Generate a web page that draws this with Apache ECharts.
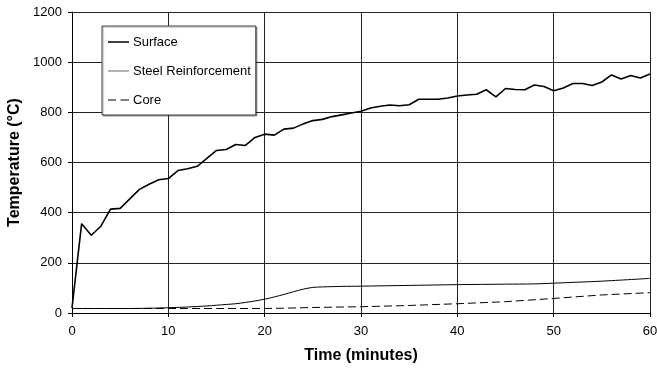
<!DOCTYPE html>
<html><head><meta charset="utf-8">
<script src="https://cdn.jsdelivr.net/npm/echarts@6/dist/echarts.min.js"></script>
<style>html,body{margin:0;padding:0;background:#fff}#c{width:657px;height:372px}</style>
</head><body><div id="c"></div>
<script>
const times = [0,1,2,3,4,5,6,7,8,9,10,11,12,13,14,15,16,17,18,19,20,21,22,23,24,25,26,27,28,29,30,31,32,33,34,35,36,37,38,39,40,41,42,43,44,45,46,47,48,49,50,51,52,53,54,55,56,57,58,59,60];
const surface = [20,356,310,346,414,417,455,493,513,531,536,568,575,585,616,648,652,672,668,700,713,709,733,737,754,767,772,783,790,797,804,817,824,829,826,830,852,852,852,857,865,869,872,890,862,895,891,890,909,903,886,897,915,915,907,921,949,933,947,937,953];
const steelT = [0,2,4,6,8,10,12,14,15,16,17,18,19,20,21,22,23,24,25,26,28,30,35,40,45,48,50,55,60];
const steel = [18,18,18,18,19,21,24,28,31,34,37,42,48,55,64,74,85,95,102,104,106,107,110,113,115,116,119,127,138];
const coreT = [0,5,10,15,20,22,25,30,35,40,45,50,55,60];
const core = [18,18,18,18,18,19,22,25,30,37,45,58,72,81];
const seriesNames = ['Surface', 'Steel Reinforcement', 'Core'];

// legend glyphs: tiny invisible corner marks keep the 21x14 box so the stroke is not stretched
const box = 'M0,0L0.01,0L0,0.01Z M21,14L20.99,14L21,13.99Z ';
const iconSolid = 'path://' + box + 'M0,6.3h21v1.5h-21z';
const iconThin = 'path://' + box + 'M0,6.5h21v1.1h-21z';
const iconDash = 'path://' + box + 'M0,6.5h8v1h-8z M12.5,6.5h8.5v1h-8.5z';
const icons = [iconSolid, iconThin, iconDash];

const chart = echarts.init(document.getElementById('c'));
const F = 'Liberation Sans, Arial, sans-serif';
chart.setOption({
  animation: false,
  backgroundColor: '#fff',
  textStyle: {fontFamily: F},
  grid: {left: 72, right: 7, top: 12, bottom: 59, containLabel: false, outerBoundsMode: 'none'},
  legend: {
    orient: 'vertical', left: 102, top: 26,
    padding: [9, 5, 8, 6], itemGap: 15, itemWidth: 21, itemHeight: 14,
    borderColor: '#444', borderWidth: 1, backgroundColor: '#fff',
    shadowColor: 'rgba(0,0,0,0.35)', shadowOffsetX: 1, shadowOffsetY: 1, shadowBlur: 1,
    textStyle: {fontFamily: F, fontSize: 13, color: '#000', padding: [0,0,0,-1]},
    data: seriesNames.map((n, i) => ({name: n, icon: icons[i]}))
  },
  xAxis: {
    type: 'value', min: 0, max: 60, interval: 10,
    name: 'Time (minutes)', nameLocation: 'middle', nameGap: 35,
    nameTextStyle: {fontFamily: F, fontSize: 16, fontWeight: 'bold', color: '#000'},
    axisLine: {show: true, lineStyle: {color: '#000', width: 1}},
    axisTick: {show: true, length: 4, inside: false, lineStyle: {color: '#000'}},
    axisLabel: {fontFamily: F, fontSize: 13, color: '#000', margin: 12},
    splitLine: {show: true, lineStyle: {color: '#222', width: 1}}
  },
  yAxis: {
    type: 'value', min: 0, max: 1200, interval: 200,
    name: 'Temperature (°C)', nameLocation: 'middle', nameGap: 42, nameRotate: 90,
    nameTextStyle: {fontFamily: F, fontSize: 16, fontWeight: 'bold', color: '#000'},
    axisLine: {show: true, lineStyle: {color: '#000', width: 1}},
    axisTick: {show: true, length: 4, inside: false, lineStyle: {color: '#000'}},
    axisLabel: {fontFamily: F, fontSize: 13, color: '#000', margin: 10, formatter: v => String(v)},
    splitLine: {show: true, lineStyle: {color: '#222', width: 1}}
  },
  series: [
    {name: seriesNames[0], type: 'line', symbol: 'none', data: times.map((t,i)=>[t, surface[i]]),
     lineStyle: {color: '#000', width: 1.6}, itemStyle: {color: '#000'}},
    {name: seriesNames[1], type: 'line', symbol: 'none', smooth: 0.3, data: steelT.map((t,i)=>[t, steel[i]]),
     lineStyle: {color: '#000', width: 1}, itemStyle: {color: '#666'}},
    {name: seriesNames[2], type: 'line', symbol: 'none', data: coreT.map((t,i)=>[t, core[i]]),
     lineStyle: {color: '#000', width: 1, type: [8, 4]}, itemStyle: {color: '#000'}}
  ]
});
</script></body></html>
